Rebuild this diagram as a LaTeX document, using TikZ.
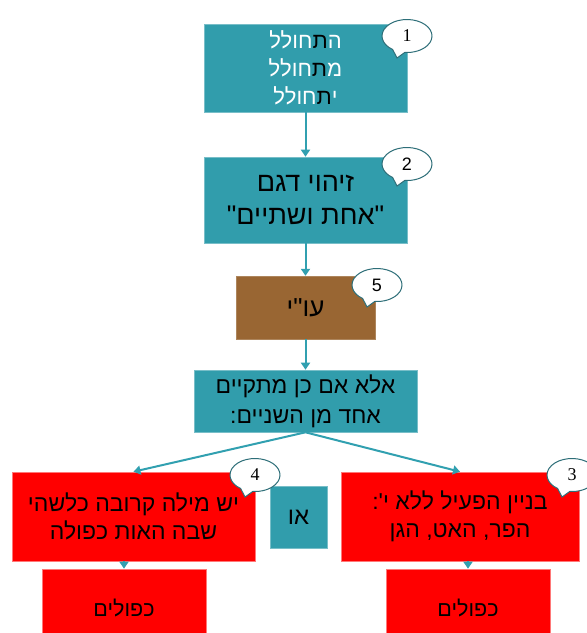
\documentclass[tikz,border=0pt]{standalone}
\usepackage{fontspec}
\newfontfamily\hebfont[Script=Hebrew]{Liberation Sans}
\newfontfamily\hebwhite[Script=Hebrew,Color=FFFFFF]{Liberation Sans}
\newfontfamily\hebblack[Script=Hebrew,Color=000000]{Liberation Sans}
\newfontfamily\numserif{Liberation Serif}
\newfontfamily\numsans{Liberation Sans}
\TeXXeTstate=1
\usetikzlibrary{arrows.meta,calc}
\definecolor{tealbox}{RGB}{49,157,172}
\definecolor{tealedge}{RGB}{120,190,200}
\definecolor{brownbox}{RGB}{153,102,51}
\definecolor{rededge}{RGB}{255,120,120}
\definecolor{arrowc}{RGB}{49,160,176}
\definecolor{calloutedge}{RGB}{45,110,120}
\newcommand\heb[1]{\beginR #1\endR}
\newcommand\blk[1]{{\hebblack\fontsize{22}{28}\selectfont #1}}
\newcommand\mycallout[4]{%
  \draw[callout] ($(#2)+(125:25 and 16.5)$) arc[start angle=125,end angle=455,x radius=25,y radius=16.5] -- ($(#2)+(-10,22)$) -- cycle;
  \node[numtxt] (#1) at (#2) {#3#4};}
\tikzset{
  box/.style={rectangle, draw=tealedge, fill=tealbox, line width=0.6pt, inner sep=0pt, align=center},
  redbox/.style={rectangle, draw=rededge, fill=red, line width=0.6pt, inner sep=0pt, align=center},
  conn/.style={draw=arrowc, line width=2pt, -{Triangle[length=7pt,width=9pt]}},
  callout/.style={draw=calloutedge, fill=white, line width=1pt},
  numtxt/.style={font=\fontsize{18}{18}\selectfont, inner sep=0pt},
}
\begin{document}
\begin{tikzpicture}[x=1pt,y=-1pt]
\useasboundingbox (0,0) rectangle (587,633);
\clip (0,0) rectangle (587,633);
\node[box, minimum width=203pt, minimum height=88pt,
  font=\hebwhite\fontsize{22}{28}\selectfont] (b1) at (305.5,68)
  {\heb{ה\blk{ת}חולל}\\\heb{מ\blk{ת}חולל}\\\heb{י\blk{ת}חולל}};
\node[box, minimum width=203pt, minimum height=86pt,
  font=\hebfont\fontsize{27}{33}\selectfont] (b2) at (305.5,200)
  {\heb{זיהוי דגם}\\\heb{"אחת ושתיים"}};
\node[rectangle, draw=brownbox!80!white, fill=brownbox, inner sep=0pt, minimum width=139pt, minimum height=63pt,
  font=\hebfont\fontsize{26}{30}\selectfont] (b5) at (305.5,307.5)
  {\heb{עו"י}};
\node[box, minimum width=223pt, minimum height=62pt,
  font=\hebfont\fontsize{23}{30}\selectfont] (b4) at (305.5,401)
  {\heb{אלא אם כן מתקיים}\\\heb{אחד מן השניים:}};
\node[redbox, minimum width=243pt, minimum height=89pt,
  font=\hebfont\fontsize{23}{28}\selectfont] (rl) at (133.5,516.5)
  {\heb{יש מילה קרובה כלשהי}\\\heb{שבה האות כפולה}};
\node[redbox, minimum width=238pt, minimum height=89pt,
  font=\hebfont\fontsize{23}{28}\selectfont] (rr) at (460,516.5)
  {\heb{בניין הפעיל ללא י':}\\\heb{הפר, האט, הגן}};
\node[box, minimum width=57pt, minimum height=62pt,
  font=\hebfont\fontsize{24}{28}\selectfont] (or) at (298.5,517)
  {\heb{או}};
\node[redbox, minimum width=164pt, minimum height=78pt,
  font=\hebfont\fontsize{21.5}{26}\selectfont] (kl) at (124,608)
  {\heb{כפולים}};
\node[redbox, minimum width=164pt, minimum height=78pt,
  font=\hebfont\fontsize{21.5}{26}\selectfont] (kr) at (468,608)
  {\heb{כפולים}};
\draw[conn] (b1.south) -- (b2.north);
\draw[conn] (b2.south) -- (b5.north);
\draw[conn] (b5.south) -- (b4.north);
\draw[conn] (b4.south) -- (rl.north);
\draw[conn] (b4.south) -- (rr.north);
\draw[conn] (rl.south -| kl.north) -- (kl.north);
\draw[conn] (rr.south -| kr.north) -- (kr.north);
\mycallout{c1}{407,36}{\numserif}{1}
\mycallout{c2}{407,164}{\numsans}{2}
\mycallout{c5}{377,285}{\numsans}{5}
\mycallout{c4}{255,475}{\numserif}{4}
\mycallout{c3}{572,475}{\numserif}{3}
\end{tikzpicture}
\end{document}
